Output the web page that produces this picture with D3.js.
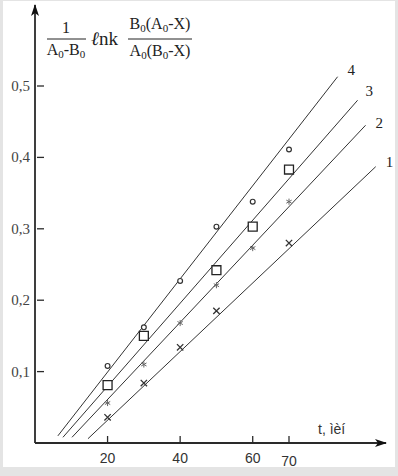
<!DOCTYPE html>
<html>
<head>
<meta charset="utf-8">
<script src="https://cdn.jsdelivr.net/npm/d3@7"></script>
<style>
  html, body { margin: 0; padding: 0; background: #e4e4e4; }
  svg { display: block; }
</style>
</head>
<body>
<svg id="chart" width="398" height="476"></svg>
<script>
// t values of the experiment (min)
const times = [20, 30, 40, 50, 60, 70];

// measured points per series (null = no point)
const series1 = [0.036, 0.084, 0.134, 0.185, null, 0.280];   // x
const series2 = [0.056, 0.110, 0.168, 0.221, 0.273, 0.338];  // *
const series3 = [0.081, 0.150, null, 0.242, 0.303, 0.383];   // square
const series4 = [0.108, 0.162, 0.227, 0.303, 0.338, 0.411];  // circle

// fitted straight lines: [tStart, vStart, tEnd, vEnd]
const fitLines = [
  [14.6, 0.006, 93.9, 0.387],
  [10.2, 0.008, 91.1, 0.445],
  [7.7, 0.008, 88.9, 0.480],
  [6.3, 0.010, 83.4, 0.513]
];
const lineLabels = ["1", "2", "3", "4"];

const xTicks = [20, 40, 60, 70];
const yTicks = [0.1, 0.2, 0.3, 0.4, 0.5];
const xTitle = "t, ìèí";

const svg = d3.select("#chart");

// paper
svg.append("rect")
  .attr("x", 3).attr("y", 1)
  .attr("width", 392).attr("height", 466)
  .attr("fill", "#fff");

const x = d3.scaleLinear().domain([0, 70]).range([35, 289]);
const y = d3.scaleLinear().domain([0, 0.5]).range([443, 86]);

const ink = "#2a2a2a";

// arrow heads
const defs = svg.append("defs");
defs.append("marker")
  .attr("id", "arrow")
  .attr("viewBox", "0 0 12 8")
  .attr("refX", 11).attr("refY", 4)
  .attr("markerWidth", 12).attr("markerHeight", 8)
  .attr("markerUnits", "userSpaceOnUse")
  .attr("orient", "auto")
  .append("path")
  .attr("d", "M0,0 L12,4 L0,8 L3,4 Z")
  .attr("fill", "#111");

// axes
svg.append("line")
  .attr("x1", x(0)).attr("y1", y(0))
  .attr("x2", 386).attr("y2", y(0))
  .attr("stroke", ink).attr("stroke-width", 1.8)
  .attr("marker-end", "url(#arrow)");
svg.append("line")
  .attr("x1", x(0)).attr("y1", y(0))
  .attr("x2", x(0)).attr("y2", 5)
  .attr("stroke", ink).attr("stroke-width", 1.8)
  .attr("marker-end", "url(#arrow)");

// y ticks (inside, to the right of axis)
const yT = svg.append("g");
yT.selectAll("line").data(yTicks).join("line")
  .attr("x1", x(0) + 2).attr("x2", x(0) + 9)
  .attr("y1", d => y(d)).attr("y2", d => y(d))
  .attr("stroke", ink).attr("stroke-width", 1.3);
yT.selectAll("text").data(yTicks).join("text")
  .attr("x", 30).attr("y", d => y(d) + 5)
  .attr("text-anchor", "end")
  .attr("font-family", "'Liberation Serif', serif")
  .attr("font-size", 15)
  .attr("fill", "#444")
  .text(d => d3.format(".1f")(d).replace(".", ","));

// x ticks (above axis)
const xT = svg.append("g");
xT.selectAll("line").data(xTicks).join("line")
  .attr("x1", d => x(d)).attr("x2", d => x(d))
  .attr("y1", y(0) - 7).attr("y2", y(0))
  .attr("stroke", ink).attr("stroke-width", 1.3);
xT.selectAll("text").data(xTicks).join("text")
  .attr("x", d => x(d)).attr("y", (d, i) => i === xTicks.length - 1 ? 466 : 463)
  .attr("text-anchor", "middle")
  .attr("font-family", "'Liberation Sans', sans-serif")
  .attr("font-size", 14)
  .attr("fill", "#333")
  .text(d => d);

svg.append("text")
  .attr("x", 318).attr("y", 434)
  .attr("font-family", "'Liberation Sans', sans-serif")
  .attr("font-size", 14)
  .attr("fill", "#333")
  .text(xTitle);

// fitted lines
svg.append("g").selectAll("line").data(fitLines).join("line")
  .attr("x1", d => x(d[0])).attr("y1", d => y(d[1]))
  .attr("x2", d => x(d[2])).attr("y2", d => y(d[3]))
  .attr("stroke", "#333").attr("stroke-width", 1);

const labelOffsets = [[10, 0], [10, 3], [8, -4], [10, -2]];
svg.append("g").selectAll("text").data(fitLines).join("text")
  .attr("x", (d, i) => x(d[2]) + labelOffsets[i][0])
  .attr("y", (d, i) => y(d[3]) + labelOffsets[i][1])
  .attr("font-family", "'Liberation Serif', serif")
  .attr("font-size", 15)
  .attr("fill", "#222")
  .text((d, i) => lineLabels[i]);

// markers
function points(vals) {
  return times.map((t, i) => ({ t, v: vals[i] })).filter(d => d.v !== null);
}
const sym = (type, size) => d3.symbol().type(type).size(size)();

svg.append("g").selectAll("path").data(points(series1)).join("path")
  .attr("transform", d => `translate(${x(d.t)},${y(d.v)})`)
  .attr("d", sym(d3.symbolX, 28))
  .attr("fill", "none").attr("stroke", "#333").attr("stroke-width", 1.3);

svg.append("g").selectAll("path").data(points(series2)).join("path")
  .attr("transform", d => `translate(${x(d.t)},${y(d.v)})`)
  .attr("d", sym(d3.symbolAsterisk, 26))
  .attr("fill", "none").attr("stroke", "#666").attr("stroke-width", 1);

svg.append("g").selectAll("path").data(points(series3)).join("path")
  .attr("transform", d => `translate(${x(d.t)},${y(d.v)})`)
  .attr("d", sym(d3.symbolSquare, 80))
  .attr("fill", "#fff").attr("stroke", "#222").attr("stroke-width", 1.3);

svg.append("g").selectAll("circle").data(points(series4)).join("circle")
  .attr("cx", d => x(d.t)).attr("cy", d => y(d.v))
  .attr("r", 2.4)
  .attr("fill", "#fff").attr("stroke", "#333").attr("stroke-width", 1.2);

// y title: 1/(A0-B0) lnk B0(A0-X)/A0(B0-X)
const title = svg.append("g")
  .attr("font-family", "'Liberation Serif', serif")
  .attr("font-size", 16)
  .attr("fill", "#222");

function subText(g, cx, cy, parts) {
  const t = g.append("text").attr("x", cx).attr("y", cy).attr("text-anchor", "middle");
  parts.forEach(p => {
    const s = t.append("tspan").text(p.s);
    if (p.sub) s.attr("font-size", 11).attr("baseline-shift", -3);
  });
  return t;
}

subText(title, 66, 33, [{ s: "1" }]);
title.append("line").attr("x1", 47).attr("x2", 86).attr("y1", 39).attr("y2", 39)
  .attr("stroke", "#222").attr("stroke-width", 1);
subText(title, 66, 55, [{ s: "A" }, { s: "0", sub: true }, { s: "-B" }, { s: "0", sub: true }]);

const ln = title.append("text").attr("x", 91).attr("y", 45).attr("font-size", 19);
ln.append("tspan").attr("font-style", "italic").text("\u2113");
ln.append("tspan").text("nk");

subText(title, 160, 29, [{ s: "B" }, { s: "0", sub: true }, { s: "(A" }, { s: "0", sub: true }, { s: "-X)" }]);
title.append("line").attr("x1", 128).attr("x2", 192).attr("y1", 39).attr("y2", 39)
  .attr("stroke", "#222").attr("stroke-width", 1);
subText(title, 160, 56, [{ s: "A" }, { s: "0", sub: true }, { s: "(B" }, { s: "0", sub: true }, { s: "-X)" }]);
</script>
</body>
</html>
